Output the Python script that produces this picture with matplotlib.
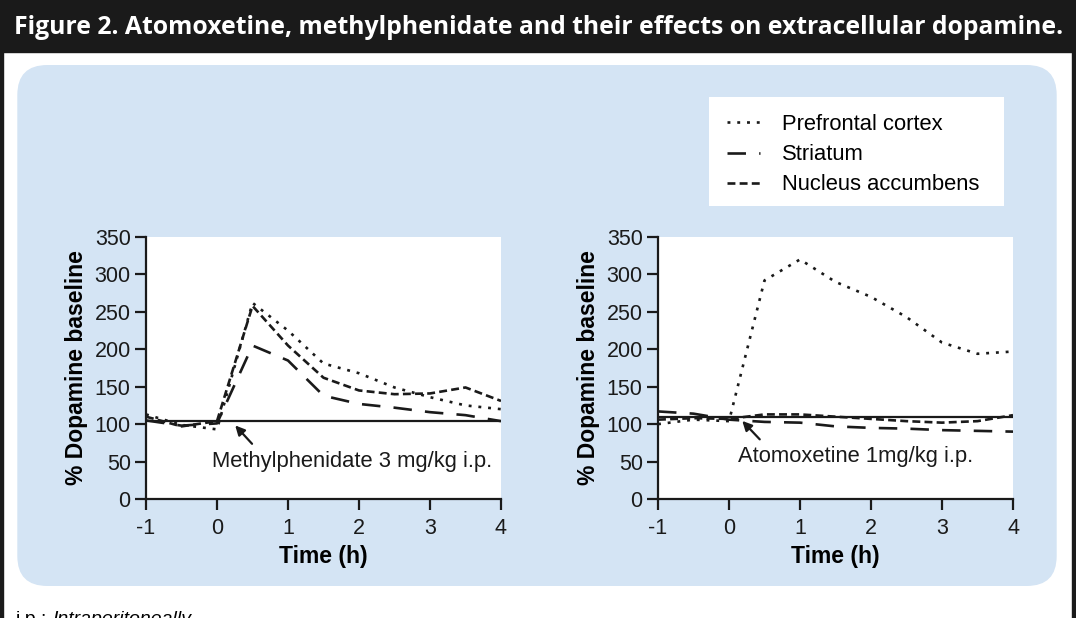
import matplotlib.pyplot as plt
from matplotlib.patches import FancyBboxPatch, Rectangle

plt.rcParams['font.family'] = ['Liberation Sans', 'DejaVu Sans']
plt.rcParams['axes.unicode_minus'] = False

# half-hour samples, -1 h to 4 h
time_h = [-1, -0.5, 0, 0.5, 1, 1.5, 2, 2.5, 3, 3.5, 4]

# methylphenidate 3 mg/kg i.p.
mph_pfc = [113, 99, 93, 262, 225, 181, 168, 149, 136, 125, 120]
mph_striatum = [105, 98, 101, 205, 185, 138, 127, 122, 116, 112, 104]
mph_nacc = [110, 97, 104, 258, 205, 162, 145, 140, 141, 149, 131]
mph_baseline = 104

# atomoxetine 1 mg/kg i.p.
ato_pfc = [100, 106, 104, 292, 320, 290, 270, 243, 209, 194, 197]
ato_striatum = [117, 114, 106, 103, 102, 97, 95, 94, 92, 91, 90]
ato_nacc = [106, 108, 107, 113, 113, 110, 107, 104, 102, 104, 112]
ato_baseline = 110

labels = ['Prefrontal cortex', 'Striatum', 'Nucleus accumbens']
styles = [(0, (1.1, 2.6)), (0, (7, 5)), (0, (3, 1.6))]
ink = '#1a1a1a'

W, H = 1076, 618
fig = plt.figure(figsize=(W / 100, H / 100), dpi=100)

# frame, title bar and blue panel
fig.patches.append(Rectangle((0, 0), 3 / W, 1, transform=fig.transFigure,
                             color=ink, zorder=-2))
fig.patches.append(Rectangle((1 - 4 / W, 0), 4 / W, 1, transform=fig.transFigure,
                             color=ink, zorder=-2))
fig.patches.append(Rectangle((0, 1 - 52 / H), 1, 52 / H, transform=fig.transFigure,
                             color=ink, zorder=-2))
fig.patches.append(FancyBboxPatch((0.173, 0.32), 10.394, 5.21,
                                  boxstyle='round,pad=0,rounding_size=0.3',
                                  transform=fig.dpi_scale_trans,
                                  facecolor='#d4e4f4', edgecolor='none', zorder=-2))
fig.text(14 / W, 1 - 28 / H,
         'Figure 2. Atomoxetine, methylphenidate and their effects on extracellular dopamine.',
         color='white', fontsize=17.8, fontweight='bold', va='center', ha='left',
         family=['Open Sans', 'DejaVu Sans'])

# footnote, cut by the image edge as in the source
fig.text(16 / W, 1 - 611 / H, 'i.p.:', fontsize=14, va='top', ha='left')
fig.text(52 / W, 1 - 611 / H, 'Intraperitoneally.', fontsize=14, va='top',
         ha='left', style='italic')

ax_l = fig.add_axes([146 / W, 119 / H, 355 / W, 262 / H])
ax_r = fig.add_axes([658 / W, 119 / H, 355 / W, 262 / H])

panels = [
    (ax_l, [mph_pfc, mph_striatum, mph_nacc], mph_baseline,
     'Methylphenidate 3 mg/kg i.p.', (0.23, 101), (0.52, 71), (-0.07, 50)),
    (ax_r, [ato_pfc, ato_striatum, ato_nacc], ato_baseline,
     'Atomoxetine 1mg/kg i.p.', (0.16, 107), (0.46, 77), (0.12, 57)),
]

for ax, series, base, note, tip, tail, note_xy in panels:
    ax.set_zorder(2)
    ax.set_facecolor('white')
    ax.axhline(base, color=ink, lw=1.6)
    for vals, lab, ls in zip(series, labels, styles):
        ax.plot(time_h, vals, color=ink, lw=1.9, linestyle=ls, label=lab)
    ax.set_xlim(-1, 4)
    ax.set_ylim(0, 350)
    ax.set_xticks([-1, 0, 1, 2, 3, 4])
    ax.set_yticks(range(0, 351, 50))
    for s in ['top', 'right']:
        ax.spines[s].set_visible(False)
    for s in ['left', 'bottom']:
        ax.spines[s].set_linewidth(1.6)
        ax.spines[s].set_color(ink)
    ax.tick_params(direction='out', length=8, width=1.6, color=ink,
                   labelsize=15.5, pad=3, labelcolor=ink)
    ax.tick_params(axis='x', pad=6)
    ax.set_xlabel('Time (h)', fontsize=16.5, fontweight='bold', labelpad=4)
    ax.set_ylabel('% Dopamine baseline', fontsize=16.5, fontweight='bold', labelpad=5)
    ax.annotate('', xy=tip, xytext=tail,
                arrowprops=dict(arrowstyle='-|>', color=ink, lw=1.6,
                                mutation_scale=14))
    ax.text(note_xy[0], note_xy[1], note, fontsize=15.8, ha='left', va='center',
            color=ink)

# legend on a white box
fig.patches.append(Rectangle((709 / W, 1 - 206 / H), 295 / W, 109 / H,
                             transform=fig.transFigure, facecolor='white',
                             edgecolor='none', zorder=1))
handles, labs = ax_l.get_legend_handles_labels()
leg = fig.legend(handles, labs, loc='upper left',
                 bbox_to_anchor=(727 / W, 1 - 114 / H),
                 frameon=False, fontsize=15.8, handlelength=1.5, handletextpad=1.0,
                 labelspacing=0.42, borderaxespad=0, borderpad=0)
leg.set_zorder(3)

fig.savefig('out.png', dpi=100)
